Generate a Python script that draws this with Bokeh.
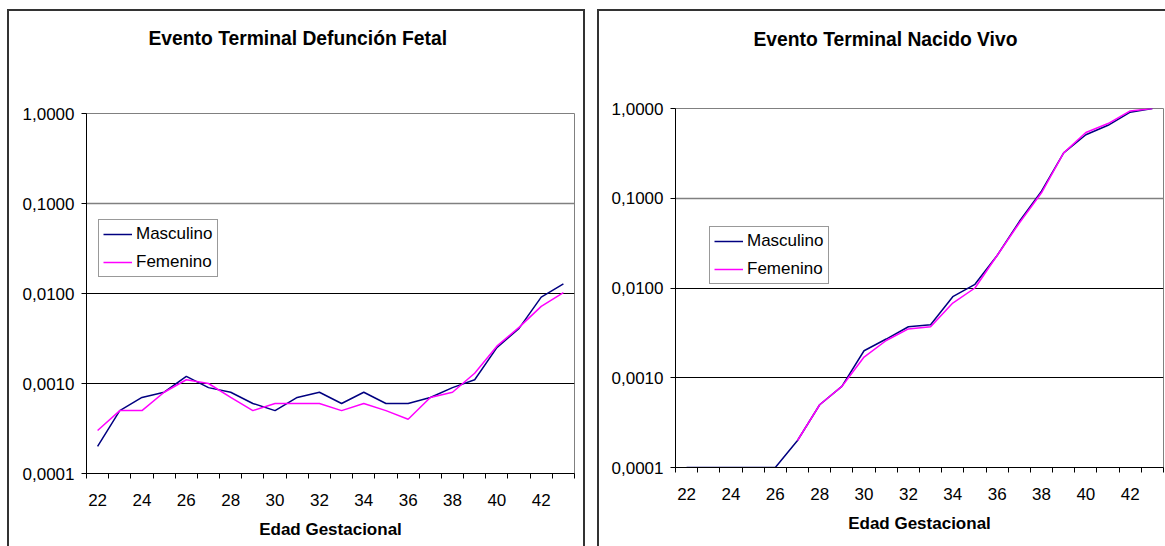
import numpy as np
from bokeh.plotting import figure
from bokeh.models import (Range1d, FixedTicker, CustomJSTickFormatter, Grid,
                          Legend, LegendItem)
from bokeh.embed import file_html
from bokeh.resources import INLINE

# ---------------- data ----------------
ages = list(range(22, 44))
x_tick_labels = [22, 24, 26, 28, 30, 32, 34, 36, 38, 40, 42]
y_ticks = [0.0001, 0.001, 0.01, 0.1, 1.0]

fetal_masculino = [0.0002, 0.0005, 0.0007, 0.0008, 0.0012, 0.0009, 0.0008, 0.0006,
                   0.0005, 0.0007, 0.0008, 0.0006, 0.0008, 0.0006, 0.0006, 0.0007,
                   0.0009, 0.0011, 0.0025, 0.0041, 0.0091, 0.0128]
fetal_femenino = [0.0003, 0.0005, 0.0005, 0.0008, 0.0011, 0.0010, 0.0007, 0.0005,
                  0.0006, 0.0006, 0.0006, 0.0005, 0.0006, 0.0005, 0.0004, 0.0007,
                  0.0008, 0.0013, 0.0026, 0.0042, 0.0072, 0.0102]
vivo_masculino = [0.0001, 0.0001, 0.0001, 0.0001, 0.0001, 0.0002, 0.0005, 0.0008,
                  0.0020, 0.0027, 0.0037, 0.0039, 0.0080, 0.011, 0.023, 0.055,
                  0.12, 0.32, 0.51, 0.65, 0.91, 1.0]
vivo_femenino = [np.nan, np.nan, np.nan, np.nan, np.nan, 0.0002, 0.0005, 0.0008,
                 0.0017, 0.0026, 0.0035, 0.0037, 0.0068, 0.010, 0.023, 0.053,
                 0.115, 0.32, 0.54, 0.68, 0.94, 1.0]

series_names = ["Masculino", "Femenino"]
series_colors = ["#000080", "#FF00FF"]

FONT = "Liberation Sans"


def make_chart(title, masc, fem, width, height, mbl, mbr, mbt, mbb,
               legend_loc, title_offset, title_standoff, blank_lines, styles):
    p = figure(width=width, height=height,
               x_range=Range1d(21.5, 43.5), y_range=Range1d(0.0001, 1.0),
               y_axis_type="log", output_backend="svg", toolbar_location=None,
               min_border_left=mbl, min_border_right=mbr,
               min_border_top=mbt, min_border_bottom=mbb)
    p.styles = styles
    p.background_fill_color = "white"
    p.border_fill_color = "white"
    p.outline_line_color = "#808080"
    p.outline_line_width = 1

    # title (blank trailing lines keep it high above the plot area)
    p.title.text = title + "\n " * blank_lines
    p.title.text_font = FONT
    p.title.text_font_size = "19.3px"
    p.title.text_font_style = "bold"
    p.title.text_color = "black"
    p.title.align = "left"
    p.title.offset = title_offset
    p.title.vertical_align = "top"
    p.title.standoff = title_standoff

    # grids
    p.xgrid.visible = False
    p.ygrid.ticker = FixedTicker(ticks=[0.001, 0.01])
    p.ygrid.grid_line_color = "black"
    p.ygrid.grid_line_width = 1
    g2 = Grid(dimension=1, ticker=FixedTicker(ticks=[0.1, 1.0]),
              grid_line_color="#808080", grid_line_width=1.3)
    p.add_layout(g2)

    # x axis
    xa = p.xaxis[0]
    xa.ticker = FixedTicker(ticks=x_tick_labels,
                            minor_ticks=[21.5 + i for i in range(23)])
    xa.major_tick_out = 0
    xa.major_tick_in = 0
    xa.minor_tick_out = 5
    xa.minor_tick_in = 0
    xa.minor_tick_line_color = "black"
    xa.axis_line_color = "black"
    xa.major_label_standoff = 15
    xa.major_label_text_font = FONT
    xa.major_label_text_font_size = "17px"
    xa.major_label_text_color = "black"
    xa.axis_label = "Edad Gestacional"
    xa.axis_label_text_font = FONT
    xa.axis_label_text_font_size = "17px"
    xa.axis_label_text_font_style = "bold"
    xa.axis_label_text_color = "black"
    xa.axis_label_standoff = 11

    # y axis
    ya = p.yaxis[0]
    ya.ticker = FixedTicker(ticks=y_ticks)
    ya.formatter = CustomJSTickFormatter(
        code="return tick.toFixed(4).replace('.', ',');")
    ya.major_tick_out = 5
    ya.major_tick_in = 0
    ya.minor_tick_out = 0
    ya.minor_tick_in = 0
    ya.axis_line_color = "black"
    ya.major_tick_line_color = "black"
    ya.major_label_standoff = 7
    ya.major_label_text_font = FONT
    ya.major_label_text_font_size = "17px"
    ya.major_label_text_color = "black"

    r1 = p.line(ages, np.array(masc, dtype=float), line_color=series_colors[0],
                line_width=1.5)
    r2 = p.line(ages, np.array(fem, dtype=float), line_color=series_colors[1],
                line_width=1.5)

    legend = Legend(items=[LegendItem(label=series_names[0], renderers=[r1]),
                           LegendItem(label=series_names[1], renderers=[r2])],
                    location=legend_loc, orientation="vertical")
    legend.label_text_font = FONT
    legend.label_text_font_size = "17px"
    legend.label_text_color = "black"
    legend.glyph_width = 29
    legend.glyph_height = 20
    legend.label_height = 20
    legend.label_standoff = 4
    legend.spacing = 8
    legend.padding = 4
    legend.margin = 0
    legend.border_line_color = "#333333"
    legend.border_line_width = 1.3
    legend.background_fill_color = "white"
    legend.background_fill_alpha = 1.0
    p.add_layout(legend, "center")
    return p


p1 = make_chart("Evento Terminal Defunción Fetal", fetal_masculino, fetal_femenino,
                width=578, height=537, mbl=77, mbr=13, mbt=102, mbb=75,
                legend_loc=(12, 196), title_offset=62, title_standoff=0,
                blank_lines=3,
                styles={"position": "absolute", "left": "7px", "top": "9px",
                        "border-left": "2px solid #333333",
                        "border-top": "2px solid #333333",
                        "border-right": "2px solid #333333"})
p2 = make_chart("Evento Terminal Nacido Vivo", vivo_masculino, vivo_femenino,
                width=568, height=537, mbl=76, mbr=4, mbt=97, mbb=81,
                legend_loc=(34, 183), title_offset=78, title_standoff=30,
                blank_lines=2,
                styles={"position": "absolute", "left": "597px", "top": "9px",
                        "border-left": "2px solid #333333",
                        "border-top": "2px solid #333333"})

open("out.html", "w").write(file_html([p1, p2], INLINE))
